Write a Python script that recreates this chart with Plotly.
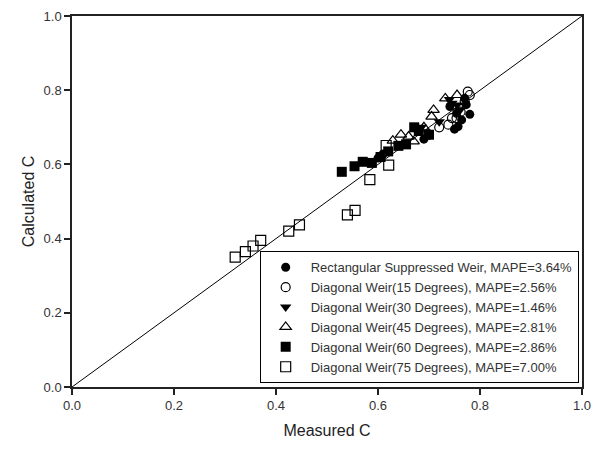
import plotly.graph_objects as go

# Rectangular Suppressed Weir (filled circle)
rect_x = [0.600, 0.610, 0.690, 0.700, 0.741, 0.754, 0.757, 0.764, 0.773, 0.770, 0.750, 0.780]
rect_y = [0.617, 0.628, 0.668, 0.680, 0.756, 0.738, 0.702, 0.720, 0.761, 0.778, 0.695, 0.735]
# Diagonal 15 degrees (open circle)
d15_x = [0.720, 0.738, 0.754, 0.762, 0.780, 0.776, 0.770, 0.745, 0.700]
d15_y = [0.700, 0.707, 0.725, 0.742, 0.787, 0.796, 0.770, 0.725, 0.680]
# Diagonal 30 degrees (filled down-triangle)
d30_x = [0.685, 0.740, 0.755, 0.760, 0.745, 0.720]
d30_y = [0.700, 0.775, 0.760, 0.745, 0.765, 0.715]
# Diagonal 45 degrees (open up-triangle)
d45_x = [0.629, 0.645, 0.670, 0.705, 0.709, 0.732, 0.755, 0.690, 0.660]
d45_y = [0.664, 0.680, 0.662, 0.729, 0.747, 0.778, 0.787, 0.700, 0.675]
# Diagonal 60 degrees (filled square)
d60_x = [0.529, 0.554, 0.570, 0.588, 0.605, 0.640, 0.655, 0.671, 0.680, 0.700, 0.620]
d60_y = [0.580, 0.595, 0.607, 0.604, 0.620, 0.650, 0.654, 0.700, 0.690, 0.680, 0.635]
# Diagonal 75 degrees (open square)
d75_x = [0.320, 0.340, 0.355, 0.370, 0.425, 0.446, 0.540, 0.555, 0.584, 0.621, 0.616]
d75_y = [0.350, 0.365, 0.380, 0.395, 0.420, 0.437, 0.464, 0.476, 0.559, 0.598, 0.651]

names = [
    "Rectangular Suppressed Weir, MAPE=3.64%",
    "Diagonal Weir(15 Degrees), MAPE=2.56%",
    "Diagonal Weir(30 Degrees), MAPE=1.46%",
    "Diagonal Weir(45 Degrees), MAPE=2.81%",
    "Diagonal Weir(60 Degrees), MAPE=2.86%",
    "Diagonal Weir(75 Degrees), MAPE=7.00%",
]

line_x = [0.0, 1.0]
line_y = [0.0, 1.0]

fig = go.Figure()
fig.add_trace(go.Scatter(x=line_x, y=line_y, mode="lines",
                         line=dict(color="black", width=1), showlegend=False))

series = [
    (rect_x, rect_y, "circle", "black"),
    (d15_x, d15_y, "circle-open", "black"),
    (d30_x, d30_y, "triangle-down", "black"),
    (d45_x, d45_y, "triangle-up-open", "black"),
    (d60_x, d60_y, "square", "black"),
    (d75_x, d75_y, "square-open", "black"),
]
for (xs, ys, sym, col), nm in zip(series, names):
    open_ = sym.endswith("open")
    fig.add_trace(go.Scatter(
        x=xs, y=ys, mode="markers", name=nm,
        marker=dict(symbol=sym, size=9 if "circle" in sym else 10, color=col,
                    line=dict(color="black", width=1.2 if open_ else 0)),
    ))

axis_common = dict(
    range=[0, 1], dtick=0.2, tickformat=".1f",
    showgrid=False, zeroline=False,
    showline=True, linecolor="#222", linewidth=1.5, mirror=True,
    ticks="outside", ticklen=6, tickcolor="#222", tickwidth=1.5,
    tickfont=dict(family="Liberation Sans, Arial", size=13, color="#333"),
)

fig.update_layout(
    width=600, height=450,
    margin=dict(l=72, r=9, t=14, b=63),
    paper_bgcolor="white", plot_bgcolor="white",
    font=dict(family="Liberation Sans, Arial", color="#222"),
    xaxis=dict(**axis_common, title=dict(text="Measured C", font=dict(size=16, color="#222"), standoff=12)),
    yaxis=dict(**axis_common, title=dict(text="Calculated C", font=dict(size=16, color="#222"), standoff=5)),
    legend=dict(
        x=0.368, y=0.01, xanchor="left", yanchor="bottom",
        bordercolor="black", borderwidth=1, bgcolor="white",
        font=dict(family="Liberation Sans, Arial", size=13, color="#333"),
        tracegroupgap=0, itemwidth=40,
    ),
)

fig.write_html("out.html")
